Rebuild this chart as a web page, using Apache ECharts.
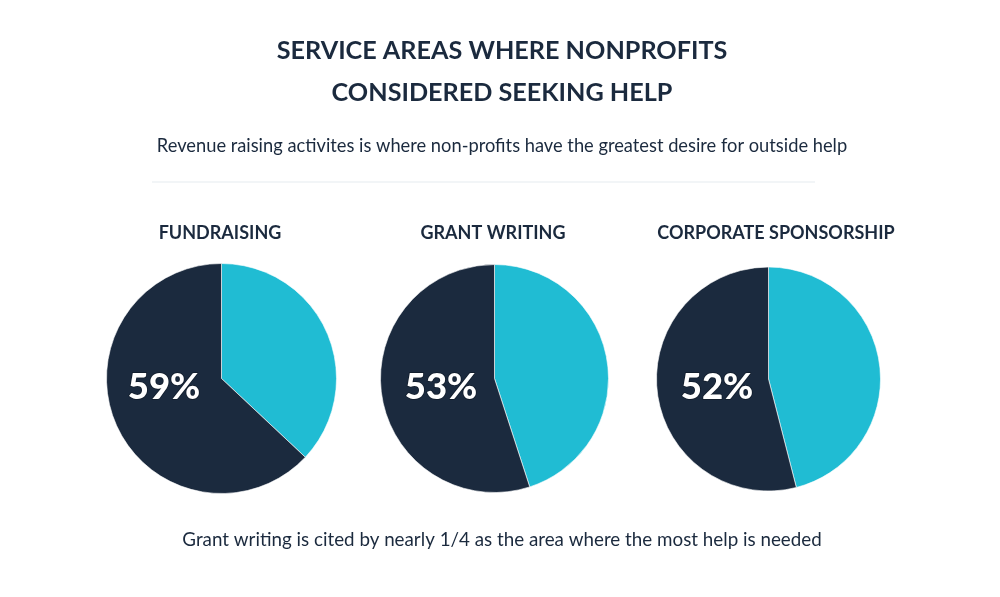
<!DOCTYPE html>
<html>
<head>
<meta charset="utf-8">
<script src="https://cdn.jsdelivr.net/npm/echarts@6/dist/echarts.min.js"></script>
<style>
html,body{margin:0;padding:0;background:#fff;}
#chart{width:1000px;height:597px;}
</style>
</head>
<body>
<div id="chart"></div>
<script>
// Data
const categories = ['FUNDRAISING', 'GRANT WRITING', 'CORPORATE SPONSORSHIP'];
const labelPercents = [59, 53, 52];       // printed percentages
const sliceLight = [37, 45, 46];          // cyan slice share as drawn
const sliceDark = [63, 55, 54];           // navy slice share as drawn
const titleLines = ['SERVICE AREAS WHERE NONPROFITS', 'CONSIDERED SEEKING HELP'];
const subtitle = 'Revenue raising activites is where non-profits have the greatest desire for outside help';
const footnote = 'Grant writing is cited by nearly 1/4 as the area where the most help is needed';

const NAVY = '#1b2a3e';
const CYAN = '#20bcd3';
const FONT = 'Lato, "Open Sans", sans-serif';

const centers = [[221.5, 378.5], [494.5, 378.5], [768.5, 379]];
const radii = [115, 114, 112];
const labelX = [164, 441, 717];
const headX = [220, 493, 776];

const chart = echarts.init(document.getElementById('chart'), null, {renderer: 'canvas'});

const series = categories.map((c, i) => ({
  type: 'pie',
  center: centers[i],
  radius: [0, radii[i]],
  startAngle: 90,
  clockwise: true,
  silent: true,
  label: {show: false},
  labelLine: {show: false},
  itemStyle: {borderColor: '#ffffff', borderWidth: 0.6},
  data: [
    {name: 'Other', value: sliceLight[i], itemStyle: {color: CYAN}},
    {name: c, value: sliceDark[i], itemStyle: {color: NAVY}}
  ]
}));

const graphics = [];
titleLines.forEach((t, k) => {
  graphics.push({type: 'text', x: 502, y: 51 + k * 42, style: {
    text: t, textAlign: 'center', textVerticalAlign: 'middle',
    font: 'bold 25.2px ' + FONT, fill: NAVY }});
});
graphics.push({type: 'text', x: 502, y: 146, style: {
  text: subtitle, textAlign: 'center', textVerticalAlign: 'middle',
  font: '18.3px ' + FONT, fill: NAVY }});
graphics.push({type: 'line', shape: {x1: 152, y1: 182, x2: 815, y2: 182},
  style: {stroke: '#eef2f5', lineWidth: 1.5}});
categories.forEach((c, i) => {
  graphics.push({type: 'text', x: headX[i], y: 233, style: {
    text: c, textAlign: 'center', textVerticalAlign: 'middle',
    font: 'bold 18px ' + FONT, fill: NAVY }});
  graphics.push({type: 'text', x: labelX[i], y: 387, z: 10, style: {
    text: labelPercents[i] + '%', textAlign: 'center', textVerticalAlign: 'middle',
    font: '900 36.5px ' + FONT, fill: '#ffffff',
    stroke: '#0f1a28', lineWidth: 1.5 }});
});
graphics.push({type: 'text', x: 502, y: 540, style: {
  text: footnote, textAlign: 'center', textVerticalAlign: 'middle',
  font: '18.8px ' + FONT, fill: NAVY }});

chart.setOption({
  backgroundColor: '#ffffff',
  animation: false,
  series: series,
  graphic: graphics
});
</script>
</body>
</html>
